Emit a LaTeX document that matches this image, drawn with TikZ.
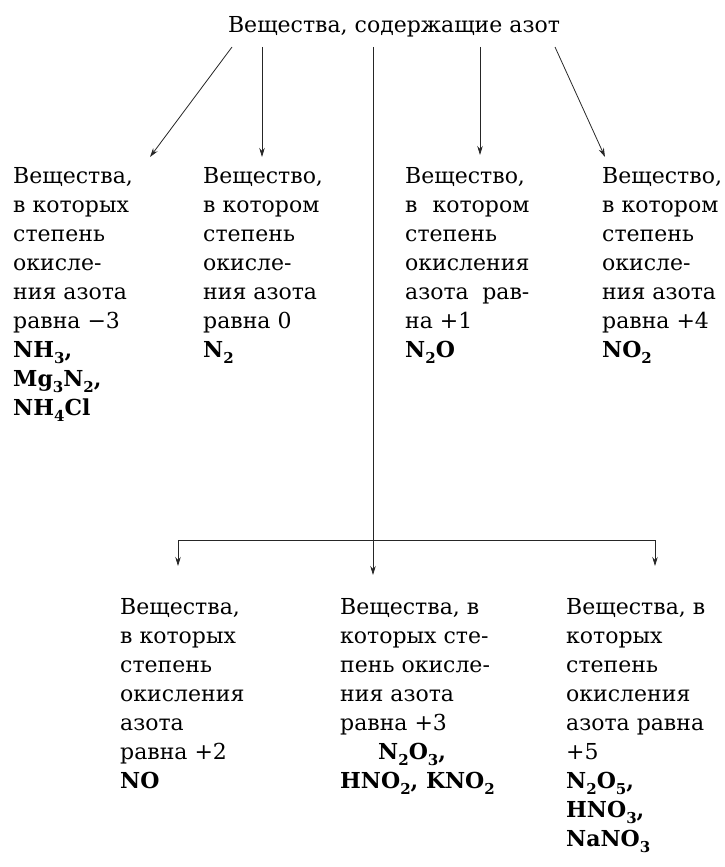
\documentclass[tikz,border=0pt]{standalone}
\usepackage{fontspec}
\setmainfont{DejaVu Serif}
\usetikzlibrary{arrows.meta}

% index of a formula, set lower and smaller
\newcommand{\ix}[1]{\raisebox{-.55ex}{\fontsize{15}{15}\selectfont\bfseries #1}}
% line spread to the width of the word "окисления"
\newsavebox{\widebox}
\newcommand{\spread}[2]{\sbox\widebox{окисления}\hbox to \wd\widebox{#1\hfill #2}}

\tikzset{
	block/.style={anchor=north west, inner sep=0pt, align=left,
		font=\fontsize{22}{29}\selectfont},
	arr/.style={-{Stealth[length=9pt,width=5.5pt]}, line width=0.8pt, draw=black!85},
}

\begin{document}
\begin{tikzpicture}[x=1pt,y=-1pt]
\useasboundingbox (0,0) rectangle (725,867);

	% title
\node [anchor=base, inner sep=0pt, font=\fontsize{22}{29}\selectfont]
	(top) at (394,33) {Вещества, содержащие азот};

	% upper row
\path
	(13,167) node [block] (minus3) {Вещества,\\в которых\\степень\\окисле-\\ния азота\\равна −3\\
		\textbf{NH\ix{3},}\\\textbf{Mg\ix{3}N\ix{2},}\\\textbf{NH\ix{4}Cl}}
	(203,167) node [block] (zero) {Вещество,\\в котором\\степень\\окисле-\\ния азота\\равна 0\\
		\textbf{N\ix{2}}}
	(405,167) node [block] (plus1) {Вещество,\\\spread{в}{котором}\\степень\\окисления\\
		\spread{азота}{рав-}\\на +1\\\textbf{N\ix{2}O}}
	(602,167) node [block] (plus4) {Вещество,\\в котором\\степень\\окисле-\\ния азота\\равна +4\\
		\textbf{NO\ix{2}}}
	;

	% lower row
\path
	(120,598) node [block] (plus2) {Вещества,\\в которых\\степень\\окисления\\азота\\равна +2\\
		\textbf{NO}}
	(340,598) node [block] (plus3) {Вещества, в\\которых сте-\\пень окисле-\\ния азота\\равна +3\\
		\hspace*{38pt}\textbf{N\ix{2}O\ix{3},}\\\textbf{HNO\ix{2}, KNO\ix{2}}}
	(566,598) node [block] (plus5) {Вещества, в\\которых\\степень\\окисления\\азота равна\\+5\\
		\textbf{N\ix{2}O\ix{5},}\\\textbf{HNO\ix{3},}\\\textbf{NaNO\ix{3}}}
	;

	% ends of the connectors
\path
	(232,47) coordinate (s1)
	(262,47) coordinate (s2)
	(373,47) coordinate (s3)
	(480,47) coordinate (s4)
	(555,47) coordinate (s5)
	(150,157) coordinate (e1)
	(262,157) coordinate (e2)
	(480,155) coordinate (e4)
	(605,157) coordinate (e5)
	(373,540) coordinate (fork)
	(178,540) coordinate (forkl)
	(655,540) coordinate (forkr)
	(373,575) coordinate (e6)
	(178,566) coordinate (e7)
	(655,566) coordinate (e8)
	;

\draw [arr] (s1) -- (e1);
\draw [arr] (s2) -- (e2);
\draw [arr] (s4) -- (e4);
\draw [arr] (s5) -- (e5);
\draw [arr] (s3) -- (e6);
\draw [arr] (fork) -- (forkl) -- (e7);
\draw [arr] (fork) -- (forkr) -- (e8);
\end{tikzpicture}
\end{document}
